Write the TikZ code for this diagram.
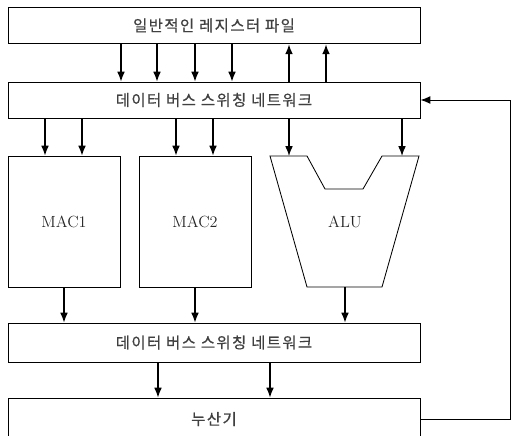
\documentclass[tikz,border=0pt]{standalone}
\usepackage{fontspec}
\newfontfamily\kofont[FakeBold=0.6, LetterSpace=9]{Noto Sans CJK KR}
\usetikzlibrary{positioning, arrows.meta}

\tikzset{
  blk/.style={draw, line width=0.6pt, minimum width=10.3cm, minimum height=0.92cm,
    font=\kofont\fontsize{11}{13}\selectfont, text=black!75},
  unit/.style={draw, line width=0.6pt, minimum width=2.8cm, minimum height=3.275cm,
    font=\fontsize{11.5}{13}\selectfont, text=black!85},
  arr/.style={-{Latex[length=7pt,width=5.5pt]}, line width=0.9pt}
}

\begin{document}
\begin{tikzpicture}
\useasboundingbox (0,0) rectangle (12.8,10.875);
% register file and buses
\node[blk] (reg) at (5.35,10.2375) {일반적인 레지스터 파일};
\node[blk, minimum height=0.9cm] (bus1) at (5.35,8.375) {데이터 버스 스위칭 네트워크};
\node[blk, minimum height=0.975cm] (bus2) at (5.35,2.3125) {데이터 버스 스위칭 네트워크};
\node[blk, minimum height=1.05cm] (acc) at (5.35,0.4) {누산기};

% functional units
\node[unit] (mac1) at (1.6,5.3375) {MAC1};
\node[unit] (mac2) at (4.875,5.3375) {MAC2};
\coordinate (alutl) at (6.75,6.975);
\coordinate (alutr) at (10.475,6.975);
\draw[line width=0.6pt] (alutl) -- (7.675,6.975) -- (8.125,6.15) -- (9.075,6.15)
  -- (9.55,6.975) -- (alutr) -- (9.55,3.7) -- (7.675,3.7) -- cycle;
\node[font=\fontsize{11.5}{13}\selectfont, text=black!85] (alu) at (8.625,5.325) {ALU};
\coordinate (alub) at (8.625,3.7);

% register file <-> bus
\foreach \x in {3.025,3.925,4.875,5.8}
  \draw[arr] (\x,0 |- reg.south) -- (\x,0 |- bus1.north);
\foreach \x in {7.225,8.15}
  \draw[arr] (\x,0 |- bus1.north) -- (\x,0 |- reg.south);

% bus -> units
\foreach \x in {1.125,2.05}
  \draw[arr] (\x,0 |- bus1.south) -- (\x,0 |- mac1.north);
\foreach \x in {4.4,5.325}
  \draw[arr] (\x,0 |- bus1.south) -- (\x,0 |- mac2.north);
\foreach \x in {7.225,10.05}
  \draw[arr] (\x,0 |- bus1.south) -- (\x,0 |- alutl);

% units -> bus
\draw[arr] (mac1.south) -- (mac1.south |- bus2.north);
\draw[arr] (mac2.south) -- (mac2.south |- bus2.north);
\draw[arr] (alub) -- (alub |- bus2.north);

% bus -> accumulator
\foreach \x in {3.95,6.75}
  \draw[arr] (\x,0 |- bus2.south) -- (\x,0 |- acc.north);

% feedback
\coordinate (fb) at (12.75,0);
\draw[arr, line width=0.7pt] (acc.east) -- (fb |- acc.east) -- (fb |- bus1.east) -- (bus1.east);
\end{tikzpicture}
\end{document}
